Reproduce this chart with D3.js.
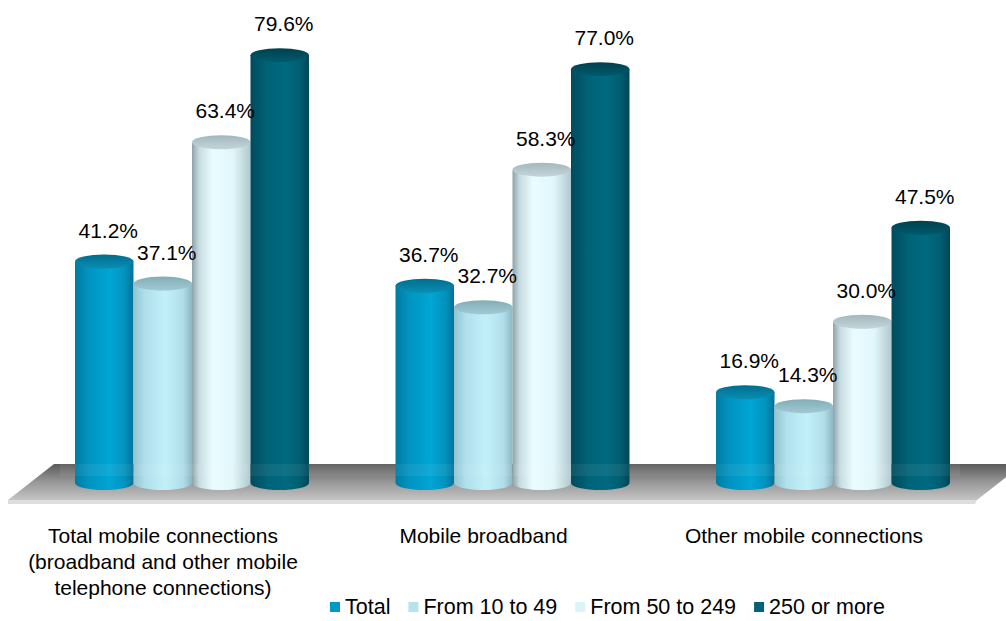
<!DOCTYPE html>
<html>
<head>
<meta charset="utf-8">
<script src="https://cdn.jsdelivr.net/npm/d3@7"></script>
<style>
  html, body { margin: 0; padding: 0; background: #fff; }
  svg { display: block; }
  text { font-family: "Liberation Sans", Arial, sans-serif; fill: #000; }
</style>
</head>
<body>
<svg id="chart" width="1006" height="621"></svg>
<script>
// ---- data ----
const categories = ["Total mobile connections", "Mobile broadband", "Other mobile connections"];
const categoryLines = [
  ["Total mobile connections", "(broadband and other mobile", "telephone connections)"],
  ["Mobile broadband"],
  ["Other mobile connections"]
];
const series = ["Total", "From 10 to 49", "From 50 to 249", "250 or more"];
const totalValues = [41.2, 36.7, 16.9];
const from10to49Values = [37.1, 32.7, 14.3];
const from50to249Values = [63.4, 58.3, 30.0];
const from250Values = [79.6, 77.0, 47.5];
const seriesValues = [totalValues, from10to49Values, from50to249Values, from250Values];

// ---- styles ----
const legendColors = ["#0099c6", "#b4e3ef", "#dcf3f8", "#00637a"];
const bodyStops = [
  [[0, "#007ba1"], [0.22, "#0093c0"], [0.6, "#00a6d4"], [0.85, "#0093be"], [1, "#00729a"]],
  [[0, "#92c3cf"], [0.2, "#b0e0ec"], [0.55, "#c2f0fa"], [0.85, "#b0dde9"], [1, "#8db7c2"]],
  [[0, "#8ea3a9"], [0.12, "#c6dbe0"], [0.35, "#eafcff"], [0.7, "#e2f7fb"], [1, "#afc9cf"]],
  [[0, "#004b5c"], [0.3, "#006378"], [0.6, "#006a80"], [0.85, "#005d71"], [1, "#004656"]]
];
const topStops = [
  [[0, "#006e8e"], [1, "#0a8db3"]],
  [[0, "#82adb7"], [1, "#a0c9d3"]],
  [[0, "#a3b7bc"], [1, "#c3d5d9"]],
  [[0, "#00414f"], [1, "#005a6c"]]
];

const svg = d3.select("#chart");
const defs = svg.append("defs");

bodyStops.forEach((stops, i) => {
  const g = defs.append("linearGradient").attr("id", "body" + i)
    .attr("x1", 0).attr("x2", 1).attr("y1", 0).attr("y2", 0);
  stops.forEach(s => g.append("stop").attr("offset", s[0]).attr("stop-color", s[1]));
});
topStops.forEach((stops, i) => {
  const g = defs.append("linearGradient").attr("id", "top" + i)
    .attr("x1", 0).attr("x2", 0).attr("y1", 0).attr("y2", 1);
  stops.forEach(s => g.append("stop").attr("offset", s[0]).attr("stop-color", s[1]));
});
const fg = defs.append("linearGradient").attr("id", "floor")
  .attr("x1", 0).attr("x2", 0).attr("y1", 0).attr("y2", 1);
fg.append("stop").attr("offset", 0).attr("stop-color", "#5a5a5a");
fg.append("stop").attr("offset", 0.5).attr("stop-color", "#979797");
fg.append("stop").attr("offset", 1).attr("stop-color", "#c4c4c4");

// ---- scales ----
const x0 = d3.scaleBand().domain(categories).range([75, 950]).paddingInner(0.27).paddingOuter(0);
const x1 = d3.scaleBand().domain(series).range([0, x0.bandwidth()]).padding(0);
const y = d3.scaleLinear().domain([0, 100]).range([483, -54.5]);

const floorTop = 464, floorBot = 500, slant = 46;

// ---- floor ----
svg.append("path")
  .attr("d", `M${8 + slant},${floorTop} L${977 + slant},${floorTop} L977,${floorBot} L8,${floorBot} Z`)
  .attr("fill", "url(#floor)");
svg.append("path")
  .attr("d", `M8,${floorBot} L977,${floorBot} L975,${floorBot + 4} L8,${floorBot + 4} Z`)
  .attr("fill", "#dedede");

// ---- bars (cylinders) ----
const ry = 7;
const bars = [];
categories.forEach((c, ci) => {
  series.forEach((s, si) => {
    bars.push({ c, s, si, v: seriesValues[si][ci] });
  });
});

const barG = svg.append("g");
bars.forEach(d => {
  const bx = x0(d.c) + x1(d.s);
  const w = x1.bandwidth();
  const rx = w / 2;
  const yt = y(d.v), yb = y(0);
  const g = barG.append("g");
  g.append("path")
    .attr("d", `M${bx},${yt} L${bx},${yb} A${rx},${ry} 0 0 0 ${bx + w},${yb} L${bx + w},${yt} Z`)
    .attr("fill", `url(#body${d.si})`);
  g.append("ellipse")
    .attr("cx", bx + rx).attr("cy", yt).attr("rx", rx).attr("ry", ry)
    .attr("fill", `url(#top${d.si})`);
});

// subtle floor reflection over bar bottoms
svg.append("rect")
  .attr("x", 60).attr("y", floorTop).attr("width", 900).attr("height", 12)
  .attr("fill", "#ffffff").attr("opacity", 0.06);

// ---- value labels ----
svg.append("g").selectAll("text").data(bars).join("text")
  .attr("x", d => x0(d.c) + x1(d.s) + x1.bandwidth() / 2 + 4)
  .attr("y", d => y(d.v) - 24)
  .attr("text-anchor", "middle")
  .attr("font-size", 21)
  .text(d => d.v.toFixed(1) + "%");

// ---- category labels ----
const catG = svg.append("g");
categories.forEach((c, ci) => {
  const cx = x0(c) + x0.bandwidth() / 2 - 29;
  categoryLines[ci].forEach((line, li) => {
    catG.append("text")
      .attr("x", cx).attr("y", 543 + li * 26)
      .attr("text-anchor", "middle")
      .attr("font-size", 21)
      .text(line);
  });
});

// ---- legend ----
const legendG = svg.append("g");
let lx = 330;
series.forEach((s, i) => {
  legendG.append("rect").attr("x", lx).attr("y", 602).attr("width", 10).attr("height", 10)
    .attr("fill", legendColors[i]);
  const t = legendG.append("text").attr("x", lx + 15).attr("y", 614)
    .attr("font-size", 21.5).text(s);
  lx += 15 + t.node().getComputedTextLength() + 18;
});
</script>
</body>
</html>
